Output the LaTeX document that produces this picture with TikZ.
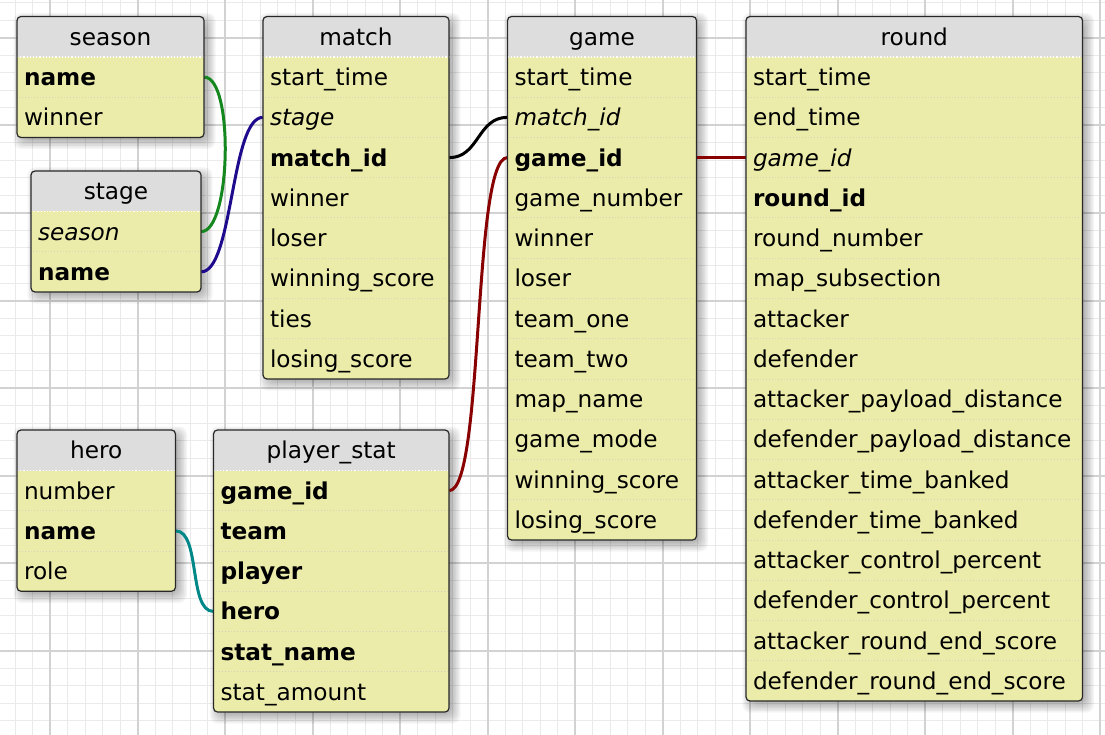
\documentclass[tikz,border=0pt]{standalone}
\usepackage{fontspec}
\setmainfont{DejaVu Sans}[BoldFont={DejaVu Sans Bold},ItalicFont={DejaVu Sans Oblique}]
\usetikzlibrary{calc}
\pgfdeclarelayer{grid}\pgfdeclarelayer{shadow}\pgfdeclarelayer{links}
\pgfsetlayers{grid,shadow,links,main}
\definecolor{bodyc}{RGB}{236,236,170}
\definecolor{headc}{RGB}{221,221,221}
\definecolor{minorc}{RGB}{234,234,234}
\definecolor{majorc}{RGB}{210,210,210}
\definecolor{bordc}{RGB}{40,40,40}
\definecolor{sepc}{RGB}{212,212,190}
\definecolor{lgreen}{RGB}{20,136,30}
\definecolor{lblue}{RGB}{30,10,140}
\definecolor{lred}{RGB}{136,0,0}
\definecolor{lteal}{RGB}{0,136,136}
\def\HH{40.5}\def\RH{40.25}
\def\fsb{\bfseries}\def\fsi{\itshape}\def\fsn{}
\tikzset{
 rowcell/.style={inner xsep=7pt, inner ysep=0pt, minimum height=\RH pt, text height=20pt, text depth=3pt, align=left, anchor=center},
 headcell/.style={inner sep=0pt, text height=20pt, text depth=3pt, anchor=center},
 link/.style={line width=3pt},
 tabbox/.style={draw=bordc, line width=1.2pt, rounded corners=4pt},
}
\newcommand\dbtab[7]{%
 \pgfmathsetmacro\tx{#2}\pgfmathsetmacro\ty{#3}\pgfmathsetmacro\tr{#4}%
 \pgfmathsetmacro\tb{#3+\HH+#5*\RH}%
 \pgfmathsetmacro\tw{#4-#2}\pgfmathsetmacro\tww{#4-#2-14}%
 \pgfmathsetmacro\tcx{(#2+#4)/2}%
 \begin{pgfonlayer}{shadow}
  \foreach \d in {-6,-4.5,...,7.5}{
   \fill[black,opacity=0.045,rounded corners=8pt] (\tx+4-\d,\ty+4-\d) rectangle (\tr+4+\d,\tb+4+\d);
  }
 \end{pgfonlayer}
 \fill[bodyc, rounded corners=4pt] (\tx,\ty) rectangle (\tr,\tb);
 \begin{scope}
  \clip[rounded corners=4pt] (\tx,\ty) rectangle (\tr,\tb);
  \fill[headc] (\tx,\ty) rectangle (\tr,\ty+\HH);
 \end{scope}
 \draw[white, dotted, line width=1.2pt] (\tx,\ty+\HH) -- (\tr,\ty+\HH);
 \node[headcell] (#1) at (\tcx,\ty+\HH/2) {#6};
 \foreach \st/\txt [count=\i] in {#7}{
  \node[rowcell, text width=\tww pt, minimum width=\tw pt] (#1-\txt) at (\tcx,\ty+\HH+\i*\RH-\RH/2) {\csname fs\st\endcsname\txt};
  \ifnum\i>1
   \draw[sepc, dotted, line width=1pt] (\tx+2,\ty+\HH+\i*\RH-\RH) -- (\tr-2,\ty+\HH+\i*\RH-\RH);
  \fi
 }
 \draw[tabbox] (\tx,\ty) rectangle (\tr,\tb);
}
\begin{document}
\catcode`\_=12
\begin{tikzpicture}[x=1pt,y=-1pt,font=\fontsize{23.2}{27}\selectfont]
\useasboundingbox (0,0) rectangle (1105,735);
\begin{pgfonlayer}{grid}
 \fill[white] (0,0) rectangle (1105,735);
 \foreach \x in {-2.5,15,...,1110} \draw[minorc, line width=1pt] (\x,0) -- (\x,735);
 \foreach \y in {3,20.5,...,740} \draw[minorc, line width=1pt] (0,\y) -- (1105,\y);
 \foreach \x in {50,137.5,...,1110} \draw[majorc, line width=2pt] (\x,0) -- (\x,735);
 \foreach \y in {38,125.5,...,740} \draw[majorc, line width=2pt] (0,\y) -- (1105,\y);
\end{pgfonlayer}
\dbtab{season}{17}{16.5}{204}{2}{season}{b/name,n/winner}
\dbtab{stage}{31}{171}{201}{2}{stage}{i/season,b/name}
\dbtab{match}{263}{16.5}{449}{8}{match}{n/start_time,i/stage,b/match_id,n/winner,n/loser,n/winning_score,n/ties,n/losing_score}
\dbtab{game}{507.5}{16.5}{696.5}{12}{game}{n/start_time,i/match_id,b/game_id,n/game_number,n/winner,n/loser,n/team_one,n/team_two,n/map_name,n/game_mode,n/winning_score,n/losing_score}
\dbtab{round}{746}{16.5}{1082.5}{16}{round}{n/start_time,n/end_time,i/game_id,b/round_id,n/round_number,n/map_subsection,n/attacker,n/defender,n/attacker_payload_distance,n/defender_payload_distance,n/attacker_time_banked,n/defender_time_banked,n/attacker_control_percent,n/defender_control_percent,n/attacker_round_end_score,n/defender_round_end_score}
\dbtab{hero}{17}{430}{175.5}{3}{hero}{n/number,b/name,n/role}
\dbtab{player_stat}{213.5}{430}{449}{6}{player_stat}{b/game_id,b/team,b/player,b/hero,b/stat_name,n/stat_amount}
\begin{pgfonlayer}{links}
 \draw[link,lgreen] (season-name.east) .. controls +(30,0) and +(30,0) .. (stage-season.east);
 \draw[link,lblue] (stage-name.east) .. controls +(32,0) and +(-32,0) .. (match-stage.west);
 \draw[link,black] (match-match_id.east) .. controls +(30,0) and +(-30,0) .. (game-match_id.west);
 \draw[link,lred] (game-game_id.east) -- (round-game_id.west);
 \draw[link,lred] (player_stat-game_id.east) .. controls +(35,0) and +(-35,0) .. (game-game_id.west);
 \draw[link,lteal] (hero-name.east) .. controls +(25,0) and +(-25,0) .. (player_stat-hero.west);
\end{pgfonlayer}
\end{tikzpicture}
\end{document}
